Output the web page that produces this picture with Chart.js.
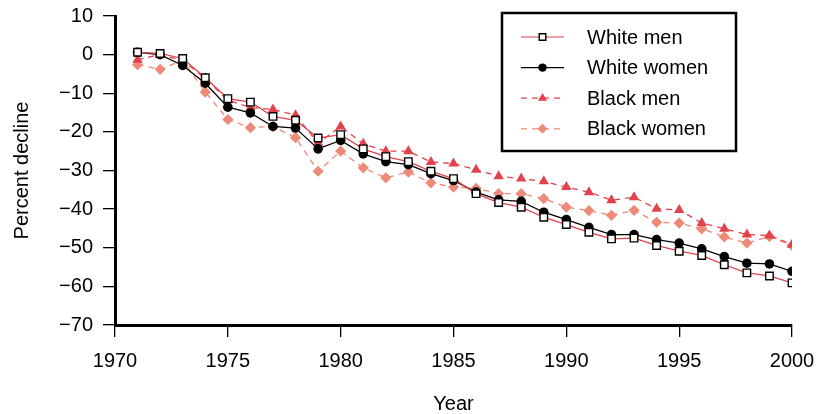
<!DOCTYPE html>
<html>
<head>
<meta charset="utf-8">
<script src="https://cdn.jsdelivr.net/npm/chart.js@4/dist/chart.umd.min.js"></script>
<style>
  html, body { margin: 0; padding: 0; background: #fff; }
  #wrap { width: 824px; height: 414px; position: relative; }
</style>
</head>
<body>
<div id="wrap"><canvas id="declineChart"></canvas></div>
<script>
// Percent decline by year, four groups
const years = [1971, 1972, 1973, 1974, 1975, 1976, 1977, 1978, 1979, 1980,
               1981, 1982, 1983, 1984, 1985, 1986, 1987, 1988, 1989, 1990,
               1991, 1992, 1993, 1994, 1995, 1996, 1997, 1998, 1999, 2000];

const whiteMen = [0.6, 0.3, -1.0, -6.0, -11.4, -12.3, -16.0, -17.0, -21.6, -20.7,
                  -24.4, -26.4, -27.7, -30.2, -32.1, -36.0, -38.3, -39.5, -42.1, -44.0,
                  -46.0, -47.7, -47.5, -49.4, -50.9, -52.0, -54.4, -56.5, -57.3, -59.1];

const whiteWomen = [0.6, 0.0, -2.8, -7.4, -13.6, -15.1, -18.6, -19.0, -24.4, -22.2,
                    -25.7, -27.7, -28.5, -30.8, -32.6, -35.6, -37.6, -38.0, -40.8, -42.7,
                    -44.7, -46.6, -46.6, -47.9, -48.8, -50.3, -52.3, -54.0, -54.2, -56.1];

const blackMen = [-1.3, 0.0, -1.5, -6.2, -11.8, -13.7, -14.2, -15.7, -22.9, -18.6,
                  -23.1, -25.0, -25.0, -27.8, -28.2, -29.8, -31.5, -32.1, -32.8, -34.3,
                  -35.6, -37.7, -36.9, -39.9, -40.2, -43.6, -45.1, -46.6, -46.8, -49.2];

const blackWomen = [-2.6, -3.8, -1.5, -9.7, -16.8, -18.9, -18.6, -21.5, -30.2, -25.0,
                    -29.3, -31.9, -30.4, -33.2, -34.3, -34.6, -36.0, -36.0, -37.3, -39.5,
                    -40.4, -41.6, -40.3, -43.4, -43.6, -45.1, -47.2, -48.8, -47.1, -49.4];

const xTicks = [1970, 1975, 1980, 1985, 1990, 1995, 2000];
const yTicks = [10, 0, -10, -20, -30, -40, -50, -60, -70];

const colors = {
    red: '#e2424b',
    salmon: '#ee8a78',
    black: '#000000'
};

const FONT = '"Liberation Sans", Arial, Helvetica, sans-serif';

function toPoints(values) {
    return years.map((y, i) => ({ x: y, y: values[i] }));
}

// boxed legend in the upper right, drawn from the dataset styles
const boxLegend = {
    id: 'boxLegend',
    afterDraw(chart) {
        const ctx = chart.ctx;
        const left = 502, top = 13, w = 234, h = 138;
        ctx.save();
        ctx.fillStyle = '#fff';
        ctx.fillRect(left, top, w, h);
        ctx.strokeStyle = '#000';
        ctx.lineWidth = 2.5;
        ctx.strokeRect(left, top, w, h);

        chart.data.datasets.forEach((ds, i) => {
            const cy = top + 24 + i * 30.6;
            const x1 = left + 19, x2 = left + 62;
            ctx.beginPath();
            ctx.strokeStyle = ds.borderColor;
            ctx.lineWidth = 1.2;
            ctx.setLineDash(ds.borderDash || []);
            ctx.moveTo(x1, cy);
            ctx.lineTo(x2, cy);
            ctx.stroke();
            ctx.setLineDash([]);

            ctx.fillStyle = ds.pointBackgroundColor;
            ctx.strokeStyle = ds.pointBorderColor;
            ctx.lineWidth = ds.pointBorderWidth;
            Chart.helpers.drawPoint(ctx, {
                pointStyle: ds.pointStyle,
                radius: ds.pointRadius * 0.88,
                borderWidth: ds.pointBorderWidth
            }, (x1 + x2) / 2, cy);

            ctx.fillStyle = '#000';
            ctx.font = '20px ' + FONT;
            ctx.textBaseline = 'middle';
            ctx.textAlign = 'left';
            ctx.fillText(ds.label, left + 85, cy + 1);
        });
        ctx.restore();
    }
};

const datasets = [
    {
        label: 'White men',
        data: toPoints(whiteMen),
        borderColor: colors.red,
        borderWidth: 1.3,
        pointStyle: 'rect',
        pointRadius: 5.3,
        pointBackgroundColor: '#fff',
        pointBorderColor: '#000',
        pointBorderWidth: 1.4
    },
    {
        label: 'White women',
        data: toPoints(whiteWomen),
        borderColor: colors.black,
        borderWidth: 1.3,
        pointStyle: 'circle',
        pointRadius: 4.8,
        pointBackgroundColor: '#000',
        pointBorderColor: '#000',
        pointBorderWidth: 0
    },
    {
        label: 'Black men',
        data: toPoints(blackMen),
        borderColor: colors.red,
        borderWidth: 1.3,
        borderDash: [6, 5],
        pointStyle: 'triangle',
        pointRadius: 6,
        pointBackgroundColor: colors.red,
        pointBorderColor: colors.red,
        pointBorderWidth: 0
    },
    {
        label: 'Black women',
        data: toPoints(blackWomen),
        borderColor: colors.salmon,
        borderWidth: 1.3,
        borderDash: [6, 5],
        pointStyle: 'rectRot',
        pointRadius: 5.6,
        pointBackgroundColor: colors.salmon,
        pointBorderColor: colors.salmon,
        pointBorderWidth: 0
    }
];

new Chart(document.getElementById('declineChart'), {
    type: 'line',
    data: { datasets: datasets },
    options: {
        responsive: true,
        maintainAspectRatio: false,
        animation: false,
        layout: { padding: { left: 0, right: 32, top: 16, bottom: 0 } },
        plugins: {
            legend: { display: false },
            tooltip: { enabled: false }
        },
        scales: {
            x: {
                type: 'linear',
                min: 1970,
                max: 2000,
                afterBuildTicks: (scale) => {
                    scale.ticks = xTicks.map(v => ({ value: v }));
                },
                afterFit: (scale) => {
                    scale.height = 89;
                    scale.paddingLeft = 0;
                    scale.paddingRight = 0;
                },
                ticks: {
                    color: '#000',
                    font: { family: FONT, size: 20 },
                    padding: 12,
                    maxRotation: 0,
                    callback: (v) => String(v)
                },
                grid: {
                    drawOnChartArea: false,
                    drawTicks: true,
                    tickLength: 12,
                    color: '#000',
                    lineWidth: 1.3
                },
                border: { color: '#000', width: 3 },
                title: {
                    display: true,
                    text: 'Year',
                    color: '#000',
                    font: { family: FONT, size: 20 },
                    padding: { top: 0, bottom: -2 }
                }
            },
            y: {
                type: 'linear',
                min: -70,
                max: 10,
                afterBuildTicks: (scale) => {
                    scale.ticks = yTicks.map(v => ({ value: v }));
                },
                afterFit: (scale) => {
                    scale.width = 115;
                    scale.paddingTop = 0;
                    scale.paddingBottom = 0;
                },
                ticks: {
                    color: '#000',
                    font: { family: FONT, size: 20 },
                    padding: 10,
                    callback: (v) => String(v).replace('-', '\u2212')
                },
                grid: {
                    drawOnChartArea: false,
                    drawTicks: true,
                    tickLength: 12,
                    color: '#000',
                    lineWidth: 1.3
                },
                border: { color: '#000', width: 3 },
                title: {
                    display: true,
                    text: 'Percent decline',
                    color: '#000',
                    font: { family: FONT, size: 20 },
                    padding: { top: 10, bottom: 0 }
                }
            }
        }
    },
    plugins: [boxLegend]
});
</script>
</body>
</html>
